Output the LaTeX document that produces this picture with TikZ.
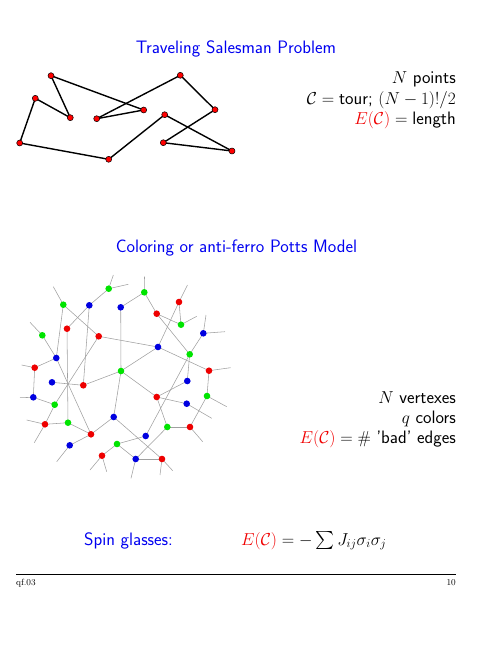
\documentclass[tikz,border=0pt]{standalone}
\usepackage{amsmath,amssymb}
\usetikzlibrary{backgrounds}
\definecolor{SlideBlue}{HTML}{0000F0}
\definecolor{SlideRed}{HTML}{F00000}
\definecolor{VRed}{HTML}{EE0000}
\definecolor{VGreen}{HTML}{00E400}
\definecolor{VBlue}{HTML}{0000E0}
\definecolor{BondGray}{HTML}{A0A0A0}

\begin{document}
\begin{tikzpicture}[x=1pt,y=-1pt]
    \tikzset{
      heading/.style={font=\fontsize{18}{21}\selectfont\sffamily,text=SlideBlue,inner sep=0pt},
      info/.style={font=\fontsize{18}{21}\selectfont\sffamily,inner sep=0pt,anchor=base east},
      footer/.style={font=\fontsize{9}{10}\selectfont\rmfamily,inner sep=0pt},
      city/.style={circle,draw=black,line width=0.5pt,fill=red,inner sep=0pt,minimum size=6pt},
      tour/.style={line width=1.4pt,line cap=round},
      vertex/.style={circle,inner sep=0pt,minimum size=6.6pt},
      vr/.style={vertex,fill=VRed},
      vg/.style={vertex,fill=VGreen},
      vb/.style={vertex,fill=VBlue},
      bond/.style={draw=BondGray,line width=0.55pt}
    }
    \useasboundingbox (0,0) rectangle (500,647);

    % traveling salesman
    \node[heading,anchor=base] (tsptitle) at (236,54) {Traveling Salesman Problem};
    \foreach \n/\x/\y in {p1/51/75.7, p2/35.3/98.3, p3/70.3/117.7, p4/96.7/118.7,
                          p5/143.7/110, p6/180.3/75.3, p7/215/109.7, p8/164.7/114.7,
                          p9/163.3/142.7, p10/232/151, p11/108.7/159.3, p12/19.7/143}
      \node[city] (\n) at (\x,\y) {};
    \begin{scope}[on background layer]
      \foreach \a/\b in {p1/p3, p3/p2, p2/p12, p12/p11, p11/p8, p8/p10,
                         p10/p9, p9/p7, p7/p6, p6/p4, p4/p5, p5/p1}
        \draw[tour] (\a.center) -- (\b.center);
    \end{scope}
    \node[info] (tspn) at (456,84) {$N$ points};
    \node[info] (tspc) at (456,104.5) {$\mathcal{C} = \text{tour;}\ (N-1)!/2$};
    \node[info] (tspe) at (456,125) {${\color{SlideRed}E(\mathcal{C})} = \text{length}$};

    % potts coloring
    \node[heading,anchor=base] (pottstitle) at (236.5,252) {Coloring or anti-ferro Potts Model};
    \foreach \n/\c/\x/\y in {g1/vg/108.7/288.7, g2/vg/144.3/292.3, r1/vr/179/302,
        g3/vg/63.3/304.7, b1/vb/89.3/305.3, b2/vb/120.7/307.3, r2/vr/156.7/313.7,
        g4/vg/181/324.7, r3/vr/67/328.7, b3/vb/203.3/333.3, g5/vg/42.3/335.3,
        r4/vr/98.7/336.3, b4/vb/158/347, g6/vg/189.7/354.3, b5/vb/56.3/358,
        r5/vr/34.7/367.7, r6/vr/209/370.7, g7/vg/121/371, b6/vb/52/382.3,
        r7/vr/83.3/385.3, b7/vb/187.3/381, r8/vr/156.7/397, g8/vg/207/396,
        b8/vb/33.3/397.3, b9/vb/186.7/403.7, g9/vg/54.7/404.7, b10/vb/113.7/417,
        r9/vr/45/424.3, g10/vg/68/422.7, g11/vg/167.3/427, r10/vr/190/427,
        r11/vr/91/434.3, b11/vb/145.7/436, b12/vb/69.7/445.3, g12/vg/117/444,
        r12/vr/102/455.7, b13/vb/135.7/459, r13/vr/162/459}
      \node[\c] (\n) at (\x,\y) {};
    % loose ends
    \foreach \n/\x/\y in {s1/128.3/284.3, s2/113.3/275, s3/144.5/276.7, s4/187.5/285,
        s5/53.3/286.7, s6/196.7/316.3, s7/206/315, s8/225/331.7, s9/30/322.3,
        s10/21.7/365, s11/230.5/367.7, s12/20/397.7, s13/226.7/406.7, s14/211.7/418.3,
        s15/26.7/420, s16/34.3/442.7, s17/202.7/441.7, s18/56.7/461.7, s19/90/470,
        s20/106.7/471.7, s21/131/478.3, s22/160/475, s23/172.7/470.7}
      \coordinate (\n) at (\x,\y);
    \begin{scope}[on background layer]
      \foreach \a/\b in {g1/b1, b1/r3, b1/r7, g3/r4, g3/b5, r3/g10, g5/b5, r4/b4,
          r4/g9, b2/g7, b2/g2, g2/r2, r1/g4, r1/b4, r2/g4, r2/g6, b3/g6, b4/g7,
          b4/r6, g6/b7, g6/b11, r6/g8, g7/r7, g7/r8, g7/b10, b7/r8, r8/b9, r8/g11,
          g8/r10, r10/g11, g11/b13, b5/r5, b5/r11, r5/b8, b6/r7, b8/g9, g9/r9,
          r9/g10, g10/r11, r11/b10, r11/b12, b10/r13, b11/g12, g12/r12, g12/b13,
          b13/r13,
          g1/s1, g1/s2, g2/s3, r1/s4, g3/s5, g4/s6, b3/s7, b3/s8, g5/s9, r5/s10,
          r6/s11, b8/s12, g8/s13, b9/s14, r9/s15, r9/s16, r10/s17, b12/s18,
          r12/s19, r12/s20, b13/s21, r13/s22, r13/s23}
        \draw[bond] (\a.center) -- (\b.center);
    \end{scope}
    \node[info] (pottsn) at (456,403.3) {$N$ vertexes};
    \node[info] (pottsq) at (456,423.3) {$q$ colors};
    \node[info] (pottse) at (456,443.3) {${\color{SlideRed}E(\mathcal{C})} = \#$ 'bad' edges};

    % spin glasses
    \node[heading,anchor=base west] (spintitle) at (84,545) {Spin glasses:};
    \node[info,anchor=base west] (spine) at (241,545)
          {${\color{SlideRed}E(\mathcal{C})} = -\sum J_{ij}\sigma_i\sigma_j$};

    % footer
    \coordinate (ruleL) at (16,574.3);
    \coordinate (ruleR) at (456,574.3);
    \draw[line width=0.8pt] (ruleL) -- (ruleR);
    \node[footer,anchor=base west] (slideid) at (16,585.5) {qf.03};
    \node[footer,anchor=base east] (slideno) at (456,585.5) {10};
  \end{tikzpicture}
\end{document}
